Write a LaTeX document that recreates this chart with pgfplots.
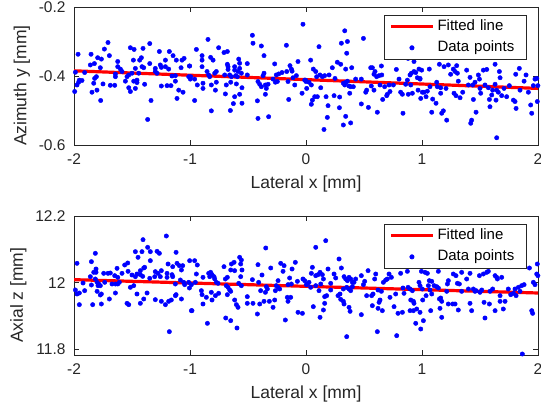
\documentclass[border=0pt]{standalone}
\usepackage{fontspec}
\setmainfont{Liberation Sans}
\usepackage{pgfplots}
\pgfplotsset{compat=1.18}
\definecolor{axgray}{RGB}{38,38,38}
\definecolor{mblue}{RGB}{0,0,255}
\definecolor{mred}{RGB}{255,0,0}

\pgfplotsset{
  matlab/.style={
    scale only axis, width=464pt,
    xmin=-2, xmax=2,
    xtick={-2,-1,0,1,2}, xticklabels={-2,-1,0,1,2},
    axis line style={draw=axgray, line width=0.6pt},
    tick style={draw=axgray, line width=0.6pt},
    tick align=inside, major tick length=5pt,
    xtick pos=both, ytick pos=both,
    xticklabel pos=lower, yticklabel pos=left,
    tick label style={font=\fontsize{15.5}{18}\selectfont, text=axgray},
    yticklabel style={xshift=-5pt},
    xticklabel style={yshift=-5pt},
    label style={font=\fontsize{17.5}{21}\selectfont, text=axgray},
    xlabel={Lateral x [mm]},
    xlabel style={yshift=-4pt},
    ylabel style={at={(ticklabel cs:0.43,2pt)}},
    reverse legend,
    legend style={at={(0.976,0.942)}, anchor=north east,
      draw=axgray, line width=0.6pt, fill=white,
      inner xsep=5pt, inner ysep=4pt, row sep=6pt, column sep=3pt,
      font=\fontsize{15}{18}\selectfont, text=black,
      nodes={inner sep=0pt, text height=11pt, text depth=4pt, anchor=west},
      /tikz/every even column/.append style={text width=84pt}},
    legend image code/.code={\draw[mark repeat=2,mark phase=2,#1]
      plot coordinates {(0pt,0pt) (21pt,0pt) (42pt,0pt)};},
  },
  dots/.style={only marks, mark=*, mark size=2.2pt, color=mblue,
    mark options={draw=mblue, fill=mblue}},
  fit/.style={mred, line width=3.2pt, no marks},
}

\begin{document}
\begin{tikzpicture}
\useasboundingbox (0,0) rectangle (541pt,412pt);

% ---- top: azimuth ----
\begin{axis}[matlab,
  at={(74pt,267pt)}, anchor=south west, height=138pt,
  ymin=-0.6, ymax=-0.2,
  ytick={-0.6,-0.4,-0.2}, yticklabels={-0.6,-0.4,-0.2},
  ylabel={Azimuth y [mm]},
]
\addplot[dots] table {
-1.965 -0.337
-1.707 -0.303
-1.738 -0.322
-1.695 -0.341
-1.853 -0.337
-1.796 -0.347
-1.764 -0.351
-1.859 -0.368
-1.824 -0.364
-1.773 -0.376
-1.988 -0.389
-1.908 -0.390
-1.954 -0.412
-1.931 -0.413
-1.974 -0.426
-1.807 -0.402
-1.822 -0.407
-1.830 -0.421
-1.845 -0.447
-1.802 -0.441
-1.750 -0.423
-1.770 -0.471
-1.687 -0.427
-1.649 -0.427
-1.643 -0.402
-1.643 -0.394
-1.623 -0.358
-1.623 -0.373
-1.600 -0.380
-1.586 -0.387
-1.514 -0.318
-1.482 -0.323
-1.405 -0.320
-1.347 -0.306
-1.488 -0.354
-1.434 -0.354
-1.419 -0.347
-1.471 -0.378
-1.414 -0.373
-1.399 -0.376
-1.442 -0.392
-1.457 -0.412
-1.457 -0.419
-1.485 -0.415
-1.543 -0.402
-1.528 -0.397
-1.557 -0.415
-1.528 -0.434
-1.514 -0.445
-1.471 -0.436
-1.391 -0.424
-1.347 -0.364
-1.336 -0.471
-1.365 -0.526
-1.299 -0.378
-1.264 -0.329
-1.256 -0.368
-1.247 -0.375
-1.299 -0.387
-1.284 -0.392
-1.212 -0.354
-1.212 -0.373
-1.184 -0.380
-1.178 -0.329
-1.146 -0.341
-1.118 -0.354
-1.069 -0.354
-1.077 -0.376
-1.051 -0.349
-1.005 -0.371
-1.126 -0.399
-1.155 -0.400
-1.164 -0.428
-1.198 -0.428
-1.247 -0.429
-1.126 -0.415
-1.097 -0.441
-1.112 -0.465
-1.060 -0.447
-1.011 -0.402
-0.997 -0.409
-1.994 -0.445
-1.960 -0.418
-1.500 -0.392
-1.003 -0.371
-0.994 -0.402
-0.960 -0.409
-0.960 -0.471
-0.945 -0.323
-0.937 -0.426
-0.896 -0.341
-0.896 -0.354
-0.896 -0.373
-0.888 -0.421
-0.888 -0.436
-0.845 -0.294
-0.853 -0.387
-0.839 -0.397
-0.830 -0.402
-0.822 -0.346
-0.801 -0.354
-0.816 -0.426
-0.816 -0.501
-0.787 -0.392
-0.773 -0.387
-0.773 -0.418
-0.781 -0.441
-0.753 -0.318
-0.707 -0.332
-0.678 -0.329
-0.701 -0.397
-0.687 -0.426
-0.678 -0.366
-0.672 -0.373
-0.672 -0.381
-0.658 -0.397
-0.643 -0.402
-0.649 -0.418
-0.695 -0.452
-0.652 -0.500
-0.615 -0.373
-0.615 -0.383
-0.606 -0.399
-0.600 -0.423
-0.615 -0.460
-0.626 -0.480
-0.580 -0.351
-0.572 -0.363
-0.572 -0.378
-0.586 -0.387
-0.592 -0.402
-0.557 -0.392
-0.552 -0.434
-0.572 -0.453
-0.552 -0.479
-0.506 -0.364
-0.506 -0.397
-0.462 -0.282
-0.457 -0.305
-0.414 -0.416
-0.419 -0.472
-0.414 -0.523
-0.385 -0.313
-0.362 -0.341
-0.362 -0.392
-0.370 -0.399
-0.399 -0.424
-0.385 -0.431
-0.350 -0.426
-0.342 -0.436
-0.350 -0.453
-0.327 -0.424
-0.322 -0.518
-0.284 -0.409
-0.270 -0.365
-0.264 -0.418
-0.247 -0.416
-0.235 -0.394
-0.207 -0.390
-0.169 -0.311
-0.155 -0.416
-0.149 -0.468
-0.138 -0.370
-0.126 -0.380
-0.120 -0.386
-0.112 -0.405
-0.097 -0.426
-0.083 -0.399
-0.069 -0.358
-0.034 -0.450
-0.026 -0.250
-0.011 -0.412
0.000 -0.416
-0.166 -0.387
-0.256 -0.397
0.040 -0.354
-0.003 -0.412
0.026 -0.418
0.046 -0.426
0.006 -0.436
0.063 -0.380
0.084 -0.387
0.092 -0.402
0.112 -0.315
0.121 -0.397
0.075 -0.460
0.098 -0.460
0.055 -0.470
0.046 -0.482
0.127 -0.434
0.141 -0.402
0.161 -0.399
0.173 -0.460
0.199 -0.397
0.190 -0.486
0.184 -0.520
0.155 -0.555
0.227 -0.376
0.250 -0.407
0.242 -0.457
0.270 -0.360
0.290 -0.461
0.288 -0.492
0.299 -0.366
0.305 -0.305
0.334 -0.269
0.357 -0.300
0.351 -0.334
0.342 -0.380
0.322 -0.421
0.334 -0.426
0.345 -0.418
0.357 -0.415
0.371 -0.429
0.377 -0.450
0.394 -0.376
0.385 -0.431
0.408 -0.431
0.342 -0.517
0.322 -0.542
0.385 -0.536
0.428 -0.409
0.477 -0.409
0.495 -0.291
0.477 -0.481
0.515 -0.447
0.523 -0.441
0.538 -0.491
0.558 -0.376
0.572 -0.376
0.586 -0.395
0.595 -0.387
0.609 -0.402
0.630 -0.399
0.563 -0.429
0.586 -0.441
0.615 -0.505
0.638 -0.426
0.650 -0.371
0.653 -0.397
0.661 -0.468
0.678 -0.431
0.696 -0.457
0.701 -0.453
0.716 -0.426
0.724 -0.445
0.753 -0.426
0.779 -0.381
0.802 -0.409
0.816 -0.447
0.831 -0.453
0.836 -0.508
0.859 -0.424
0.874 -0.412
0.882 -0.453
0.897 -0.397
0.903 -0.426
0.917 -0.450
0.908 -0.392
0.931 -0.387
0.946 -0.390
0.960 -0.405
0.966 -0.441
0.974 -0.380
0.983 -0.407
0.989 -0.465
1.003 -0.447
0.880 -0.349
0.931 -0.358
0.997 -0.383
0.983 -0.409
1.017 -0.447
1.035 -0.460
1.063 -0.380
1.069 -0.431
1.046 -0.444
1.084 -0.505
1.092 -0.467
1.127 -0.418
1.121 -0.479
1.132 -0.431
1.150 -0.366
1.161 -0.434
1.161 -0.450
1.184 -0.501
1.170 -0.508
1.190 -0.373
1.207 -0.436
1.213 -0.528
1.227 -0.368
1.247 -0.395
1.270 -0.380
1.285 -0.387
1.299 -0.370
1.305 -0.392
1.313 -0.415
1.276 -0.450
1.293 -0.457
1.328 -0.463
1.351 -0.447
1.385 -0.383
1.400 -0.426
1.414 -0.404
1.437 -0.426
1.443 -0.468
1.466 -0.505
1.428 -0.528
1.420 -0.537
1.457 -0.418
1.486 -0.397
1.495 -0.409
1.500 -0.436
1.506 -0.450
1.529 -0.383
1.543 -0.426
1.558 -0.381
1.572 -0.434
1.581 -0.468
1.586 -0.489
1.601 -0.455
1.609 -0.441
1.630 -0.366
1.630 -0.424
1.644 -0.441
1.658 -0.447
1.638 -0.470
1.644 -0.579
1.667 -0.387
1.673 -0.405
1.687 -0.457
1.707 -0.436
1.730 -0.460
1.753 -0.428
1.788 -0.470
1.802 -0.474
1.811 -0.494
1.839 -0.378
1.845 -0.441
1.808 -0.395
1.880 -0.415
1.897 -0.397
1.917 -0.447
1.937 -0.484
1.946 -0.508
1.960 -0.428
1.974 -0.409
1.989 -0.407
1.994 -0.474
1.999 -0.428
};
\addlegendentry{Data points}
\addplot[fit] coordinates {(-2,-0.385) (2,-0.436)};
\addlegendentry{Fitted line}
\end{axis}

% ---- bottom: axial ----
\begin{axis}[matlab,
  at={(74pt,57pt)}, anchor=south west, height=139pt,
  ymin=11.783, ymax=12.2,
  ytick={11.8,12,12.2}, yticklabels={11.8,12,12.2},
  ylabel={Axial z [mm]},
]
\addplot[dots] table {
-1.974 12.058
-1.988 11.978
-1.974 11.966
-1.954 11.969
-1.954 11.934
-1.922 11.999
-1.908 11.976
-1.859 12.018
-1.850 12.063
-1.830 12.031
-1.816 12.088
-1.810 12.041
-1.810 12.031
-1.816 12.011
-1.850 11.993
-1.801 12.001
-1.787 11.996
-1.793 11.991
-1.801 11.974
-1.773 11.991
-1.773 11.963
-1.764 11.966
-1.839 11.934
-1.764 11.936
-1.744 12.028
-1.735 12.001
-1.707 12.028
-1.687 12.029
-1.695 11.951
-1.649 12.021
-1.629 12.043
-1.623 12.016
-1.643 11.996
-1.623 11.996
-1.643 11.969
-1.609 12.001
-1.586 12.028
-1.563 12.053
-1.537 12.059
-1.534 12.034
-1.543 11.938
-1.528 11.934
-1.500 12.023
-1.514 11.986
-1.485 11.991
-1.471 12.093
-1.471 12.018
-1.457 12.026
-1.448 12.076
-1.428 12.036
-1.428 12.024
-1.399 12.044
-1.408 12.019
-1.391 12.046
-1.414 12.093
-1.405 12.129
-1.365 12.106
-1.342 12.093
-1.342 12.066
-1.428 11.938
-1.399 11.951
-1.457 11.966
-1.370 11.969
-1.347 12.013
-1.304 12.018
-1.299 12.033
-1.284 12.094
-1.264 12.088
-1.276 12.028
-1.256 12.018
-1.247 12.036
-1.299 11.949
-1.247 11.944
-1.204 12.140
-1.189 12.056
-1.198 12.028
-1.198 12.016
-1.212 11.934
-1.184 11.944
-1.161 11.948
-1.178 11.853
-1.149 12.048
-1.155 12.024
-1.120 12.091
-1.149 12.018
-1.126 11.996
-1.112 12.058
-1.092 12.051
-1.063 12.051
-1.074 12.038
-1.083 12.008
-1.054 12.001
-1.046 11.994
-1.011 12.001
-1.003 12.066
-1.005 11.984
-1.120 11.964
-1.126 11.961
-1.074 11.951
-0.988 11.916
-2.003 11.991
-1.672 11.996
-0.960 12.066
-0.937 12.053
-0.945 12.026
-0.954 12.001
-0.988 11.994
-0.888 12.016
-0.902 11.976
-0.896 11.964
-0.888 11.936
-0.859 11.956
-0.839 12.028
-0.822 12.031
-0.830 12.018
-0.810 12.024
-0.793 12.018
-0.787 12.011
-0.773 12.001
-0.816 11.971
-0.810 11.948
-0.781 11.961
-0.753 11.968
-0.758 11.998
-0.850 11.878
-0.983 11.916
-0.707 12.048
-0.695 12.011
-0.678 12.016
-0.687 11.991
-0.672 11.986
-0.658 11.978
-0.678 11.964
-0.649 11.974
-0.643 12.056
-0.620 12.061
-0.649 12.038
-0.615 12.036
-0.615 11.948
-0.600 11.934
-0.586 11.926
-0.580 11.998
-0.572 12.076
-0.557 12.068
-0.563 12.056
-0.552 12.038
-0.563 12.018
-0.557 11.991
-0.692 11.894
-0.649 11.886
-0.595 11.864
-0.506 11.958
-0.506 11.938
-0.462 12.009
-0.457 11.938
-0.419 11.906
-0.414 12.054
-0.379 12.023
-0.408 12.001
-0.399 11.936
-0.391 11.976
-0.362 11.944
-0.350 11.971
-0.342 11.988
-0.333 11.981
-0.316 11.944
-0.304 12.044
-0.347 12.104
-0.284 11.926
-0.270 11.948
-0.264 11.976
-0.241 12.006
-0.241 11.986
-0.227 11.981
-0.256 11.991
-0.218 12.058
-0.189 12.051
-0.198 12.034
-0.155 11.994
-0.141 12.014
-0.126 11.996
-0.161 11.956
-0.155 11.944
-0.132 11.956
-0.120 12.041
-0.092 12.061
-0.074 12.004
-0.026 12.011
-0.011 12.006
0.003 11.994
-0.178 11.888
-0.069 11.911
-0.031 11.908
0.170 12.126
0.084 12.106
0.285 12.071
0.055 12.046
0.046 12.028
0.084 12.021
0.104 12.024
0.121 12.031
0.141 12.024
0.190 12.041
0.150 12.011
0.127 11.996
0.026 12.001
0.012 11.996
0.040 11.986
0.084 11.991
0.112 11.976
0.063 11.928
0.161 11.958
0.178 11.961
0.161 11.938
0.150 11.918
0.121 11.896
0.213 11.998
0.213 11.978
0.242 12.026
0.256 12.014
0.305 12.044
0.276 11.961
0.293 11.966
0.299 11.950
0.322 11.944
0.328 12.018
0.342 12.011
0.357 12.006
0.371 12.016
0.385 12.011
0.400 12.001
0.351 11.986
0.371 11.981
0.385 11.976
0.400 11.988
0.414 12.001
0.428 12.011
0.322 11.981
0.328 11.936
0.371 11.926
0.380 11.914
0.351 11.838
0.477 12.021
0.495 11.994
0.506 12.004
0.477 11.904
0.523 11.961
0.535 12.036
0.566 11.961
0.578 11.966
0.572 11.931
0.592 12.011
0.601 12.026
0.621 11.978
0.630 11.941
0.638 11.948
0.621 11.923
0.615 11.853
0.650 11.974
0.658 11.916
0.667 12.001
0.687 12.008
0.701 12.011
0.716 12.026
0.724 11.956
0.736 12.016
0.759 11.928
0.773 11.966
0.782 11.841
0.793 11.908
0.816 12.028
0.836 11.984
0.831 11.911
0.845 11.968
0.874 12.034
0.880 11.986
0.897 11.981
0.917 11.976
0.903 11.948
0.926 11.944
0.931 11.938
0.897 11.916
0.926 11.916
0.954 11.921
0.946 11.878
0.989 11.861
0.983 11.991
0.974 12.001
0.995 12.034
1.003 11.981
1.012 11.886
1.026 12.031
1.046 12.028
1.063 12.006
1.084 12.004
1.055 11.991
1.069 11.978
1.084 11.966
1.035 11.961
1.006 11.948
0.983 11.911
1.104 11.991
1.127 11.988
1.141 11.984
1.150 11.951
1.161 11.954
1.170 11.944
1.155 11.923
1.170 11.896
1.075 11.916
1.141 12.034
1.227 12.006
1.219 11.996
1.213 11.974
1.227 11.936
1.265 11.936
1.285 11.936
1.270 12.026
1.293 12.021
1.305 11.998
1.322 11.996
1.313 11.918
1.342 12.031
1.342 11.974
1.385 12.011
1.400 11.981
1.414 12.028
1.414 11.938
1.428 11.916
1.443 11.981
1.457 11.974
1.466 11.976
1.495 12.021
1.500 11.971
1.515 11.978
1.529 12.026
1.535 11.941
1.543 11.894
1.558 12.031
1.572 12.034
1.581 11.936
1.586 11.974
1.609 11.981
1.630 11.916
1.630 12.021
1.644 12.016
1.650 12.011
1.673 11.961
1.673 11.944
1.687 12.016
1.701 11.921
1.716 11.944
1.744 11.981
1.765 11.964
1.788 11.968
1.802 11.981
1.811 11.961
1.831 11.986
1.845 11.974
1.859 11.991
1.880 11.994
1.926 12.044
1.946 11.916
1.954 11.908
1.960 12.001
1.974 11.994
1.989 12.026
1.999 12.021
1.994 12.056
1.865 11.786
};
\addlegendentry{Data points}
\addplot[fit] coordinates {(-2,12.009) (2,11.969)};
\addlegendentry{Fitted line}
\end{axis}
\end{tikzpicture}
\end{document}
